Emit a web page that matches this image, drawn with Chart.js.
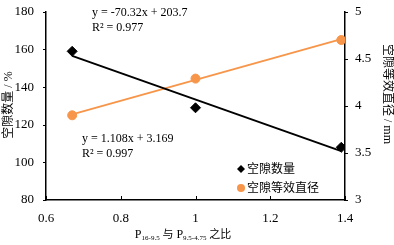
<!DOCTYPE html>
<html>
<head>
<meta charset="utf-8">
<script src="https://cdn.jsdelivr.net/npm/chart.js@4"></script>
<style>
  html, body { margin: 0; padding: 0; background: #fff; }
  #wrap { width: 394px; height: 245px; }
</style>
</head>
<body>
<div id="wrap"><canvas id="chart" width="394" height="245"></canvas></div>
<script>
// ratio P16-9.5 / P9.5-4.75
const ratios = [0.67, 1.0, 1.39];
const voidCount = [159, 129, 108];          // 空隙数量 / %
const voidDiameter = [3.9, 4.29, 4.7];      // 空隙等效直径 / mm

// trend line ends
const countTrendX = [0.67, 1.39];
const countTrendY = [156.6, 106.0];
const diaTrendX = [0.67, 1.39];
const diaTrendY = [3.91, 4.71];

const xTicks = [0.6, 0.8, 1.0, 1.2, 1.4];
const leftTicks = [80, 100, 120, 140, 160, 180];
const rightTicks = [3, 3.5, 4, 4.5, 5];

const serif = "'Liberation Serif', 'Noto Sans CJK SC', serif";
const black = '#000000';
const orange = '#F7964A';

Chart.defaults.font.family = serif;
Chart.defaults.font.size = 13;
Chart.defaults.color = '#000';

function toPoints(xs, ys) {
    return xs.map((x, i) => ({ x: x, y: ys[i] }));
}

function fmt(value) {
    return String(Math.round(value * 10) / 10);
}

const extras = {
    id: 'extras',
    afterDraw(chart) {
        const ctx = chart.ctx;
        const area = chart.chartArea;
        const x = chart.scales.x, yl = chart.scales.y, yr = chart.scales.y2;
        ctx.save();
        ctx.strokeStyle = '#000';
        ctx.lineWidth = 1;
        // tick marks
        xTicks.forEach(v => {
            const px = Math.round(x.getPixelForValue(v)) + 0.5;
            ctx.beginPath(); ctx.moveTo(px, area.bottom); ctx.lineTo(px, area.bottom - 4); ctx.stroke();
        });
        leftTicks.forEach(v => {
            const py = Math.round(yl.getPixelForValue(v)) + 0.5;
            ctx.beginPath(); ctx.moveTo(area.left - 3, py); ctx.lineTo(area.left, py); ctx.stroke();
        });
        rightTicks.forEach(v => {
            const py = Math.round(yr.getPixelForValue(v)) + 0.5;
            ctx.beginPath(); ctx.moveTo(area.right, py); ctx.lineTo(area.right + 3, py); ctx.stroke();
        });

        ctx.fillStyle = '#000';
        ctx.textBaseline = 'middle';
        ctx.font = '12px ' + serif;
        ctx.textAlign = 'left';
        ctx.fillText('y = -70.32x + 203.7', 92, 13);
        ctx.fillText('R² = 0.977', 92, 28);
        ctx.fillText('y = 1.108x + 3.169', 82, 139);
        ctx.fillText('R² = 0.997', 82, 154);

        // legend
        ctx.font = '12px ' + serif;
        ctx.fillStyle = black;
        ctx.beginPath();
        ctx.moveTo(241, 165); ctx.lineTo(245, 169); ctx.lineTo(241, 173); ctx.lineTo(237, 169);
        ctx.closePath(); ctx.fill();
        ctx.fillText('空隙数量', 247, 170);
        ctx.fillStyle = orange;
        ctx.beginPath(); ctx.arc(241, 188, 4, 0, Math.PI * 2); ctx.fill();
        ctx.fillStyle = '#000';
        ctx.fillText('空隙等效直径', 247, 189);

        // left axis title
        ctx.save();
        ctx.translate(9, 105);
        ctx.rotate(-Math.PI / 2);
        ctx.textAlign = 'center';
        ctx.font = '12px ' + serif;
        ctx.fillText('空隙数量 / %', 0, 0);
        ctx.restore();

        // right axis title
        ctx.save();
        ctx.translate(387, 94);
        ctx.rotate(Math.PI / 2);
        ctx.textAlign = 'center';
        ctx.font = '12px ' + serif;
        ctx.fillText('空隙等效直径 / mm', 0, 0);
        ctx.restore();

        // x axis title with subscripts
        const parts = [
            ['P', 12, 0], ['16-9.5', 7, 3], [' 与', 11, 0], [' P', 12, 0], ['9.5-4.75', 7, 3], [' 之比', 11, 0]
        ];
        let total = 0;
        parts.forEach(p => { ctx.font = p[1] + 'px ' + serif; total += ctx.measureText(p[0]).width; });
        let cx = 183 - total / 2;
        ctx.textAlign = 'left';
        parts.forEach(p => {
            ctx.font = p[1] + 'px ' + serif;
            ctx.fillText(p[0], cx, 235 + p[2]);
            cx += ctx.measureText(p[0]).width;
        });
        ctx.restore();
    }
};

new Chart(document.getElementById('chart').getContext('2d'), {
    type: 'scatter',
    data: {
        datasets: [
            {
                label: 'count trend',
                data: toPoints(countTrendX, countTrendY),
                showLine: true,
                borderColor: black,
                borderWidth: 2,
                pointRadius: 0,
                yAxisID: 'y'
            },
            {
                label: 'diameter trend',
                data: toPoints(diaTrendX, diaTrendY),
                showLine: true,
                borderColor: orange,
                borderWidth: 2,
                pointRadius: 0,
                yAxisID: 'y2'
            },
            {
                label: '空隙数量',
                data: toPoints(ratios, voidCount),
                pointStyle: 'rectRot',
                pointRadius: 5,
                backgroundColor: black,
                borderColor: black,
                yAxisID: 'y'
            },
            {
                label: '空隙等效直径',
                data: toPoints(ratios, voidDiameter),
                pointStyle: 'circle',
                pointRadius: 4.5,
                backgroundColor: orange,
                borderColor: orange,
                yAxisID: 'y2'
            }
        ]
    },
    options: {
        responsive: false,
        animation: false,
        layout: { padding: { top: 5, left: 0, right: 0, bottom: 0 } },
        plugins: {
            legend: { display: false },
            tooltip: { enabled: false }
        },
        scales: {
            x: {
                type: 'linear',
                min: 0.6,
                max: 1.4,
                afterFit: function(scale) { scale.height = 45; },
                afterBuildTicks: function(scale) { scale.ticks = xTicks.map(v => ({ value: v })); },
                grid: { display: false },
                border: { color: '#000', width: 1.5 },
                ticks: {
                    color: '#000',
                    font: { family: serif, size: 13 },
                    padding: 3,
                    callback: fmt
                }
            },
            y: {
                position: 'left',
                min: 80,
                max: 180,
                afterFit: function(scale) { scale.width = 46; },
                afterBuildTicks: function(scale) { scale.ticks = leftTicks.map(v => ({ value: v })); },
                grid: { display: false },
                border: { color: '#000', width: 1.5 },
                ticks: {
                    color: '#000',
                    font: { family: serif, size: 13 },
                    padding: 4,
                    callback: fmt
                }
            },
            y2: {
                position: 'right',
                min: 3,
                max: 5,
                afterFit: function(scale) { scale.width = 49; },
                afterBuildTicks: function(scale) { scale.ticks = rightTicks.map(v => ({ value: v })); },
                grid: { display: false },
                border: { color: '#000', width: 1.5 },
                ticks: {
                    color: '#000',
                    font: { family: serif, size: 13 },
                    padding: 2,
                    callback: fmt
                }
            }
        }
    },
    plugins: [extras]
});
</script>
</body>
</html>
